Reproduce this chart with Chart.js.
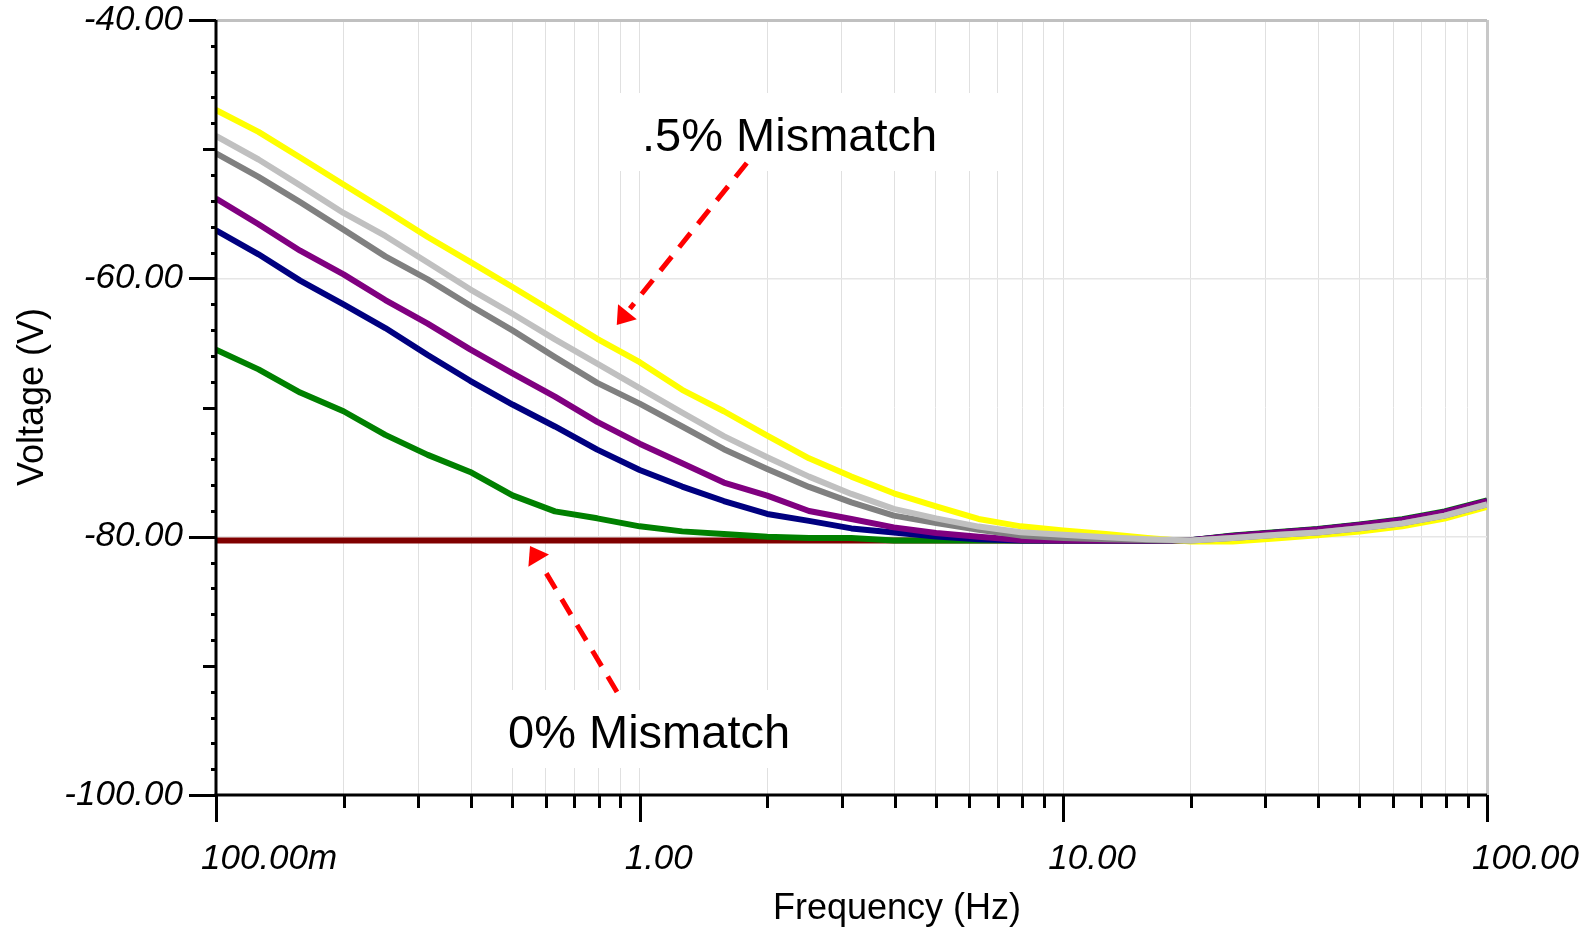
<!DOCTYPE html>
<html>
<head>
<meta charset="utf-8">
<title>Voltage vs Frequency</title>
<script src="https://cdn.jsdelivr.net/npm/chart.js@4.4.1/dist/chart.umd.min.js"></script>
<style>
  html, body { margin: 0; padding: 0; background: #fff; }
  #wrap { width: 1587px; height: 929px; }
</style>
</head>
<body>
<div id="wrap"><canvas id="voltageChart" width="1587" height="929"></canvas></div>
<script>
// sweep frequencies (Hz), 10 points per decade
const freqHz = [0.1, 0.126, 0.158, 0.2, 0.251, 0.316, 0.398, 0.501, 0.631, 0.794,
                1, 1.26, 1.58, 2, 2.51, 3.16, 3.98, 5.01, 6.31, 7.94,
                10, 12.6, 15.8, 20, 25.1, 31.6, 39.8, 50.1, 63.1, 79.4, 100];

// output voltage (dB V) for each mismatch run
const yellowV = [-46.97, -48.66, -50.65, -52.74, -54.73, -56.80, -58.73, -60.67, -62.66, -64.68,
                 -66.49, -68.63, -70.29, -72.17, -73.93, -75.35, -76.64, -77.65, -78.63, -79.20,
                 -79.53, -79.80, -80.10, -80.38, -80.38, -80.15, -79.90, -79.60, -79.20, -78.60, -77.70];
const lightGrayV = [-48.98, -50.80, -52.80, -54.94, -56.72, -58.78, -60.85, -62.74, -64.73, -66.61,
                    -68.50, -70.39, -72.22, -73.85, -75.35, -76.69, -77.85, -78.58, -79.22, -79.66,
                    -79.85, -80.05, -80.20, -80.30, -80.10, -79.87, -79.67, -79.35, -78.97, -78.37, -77.50];
const grayV = [-50.33, -52.15, -54.10, -56.23, -58.30, -60.08, -62.10, -64.03, -66.10, -68.09,
               -69.70, -71.47, -73.23, -74.76, -76.15, -77.34, -78.37, -78.94, -79.46, -79.92,
               -80.10, -80.20, -80.25, -80.30, -80.10, -79.87, -79.67, -79.35, -78.97, -78.37, -77.50];
const purpleV = [-53.82, -55.81, -57.86, -59.69, -61.68, -63.51, -65.50, -67.36, -69.16, -71.11,
                 -72.80, -74.32, -75.81, -76.82, -78.01, -78.63, -79.28, -79.71, -80.00, -80.26,
                 -80.30, -80.30, -80.30, -80.28, -79.95, -79.70, -79.45, -79.10, -78.70, -78.10, -77.25];
const navyV = [-56.28, -58.14, -60.18, -62.02, -63.85, -65.94, -67.93, -69.77, -71.47, -73.26,
               -74.84, -76.12, -77.24, -78.24, -78.78, -79.36, -79.67, -79.98, -80.20, -80.30,
               -80.30, -80.30, -80.30, -80.28, -79.95, -79.70, -79.45, -79.10, -78.70, -78.10, -77.25];
const greenV = [-65.53, -67.05, -68.84, -70.29, -72.12, -73.67, -74.99, -76.80, -78.04, -78.58,
                -79.20, -79.59, -79.80, -80.00, -80.10, -80.10, -80.30, -80.30, -80.30, -80.30,
                -80.30, -80.30, -80.30, -80.28, -79.90, -79.65, -79.40, -79.05, -78.65, -78.05, -77.20];
const darkRedV = [-80.30, -80.30, -80.30, -80.30, -80.30, -80.30, -80.30, -80.30, -80.30, -80.30,
                  -80.30, -80.30, -80.30, -80.30, -80.30, -80.30, -80.30, -80.30, -80.30, -80.30,
                  -80.30, -80.30, -80.30, -80.30, -80.10, -79.87, -79.67, -79.35, -78.97, -78.37, -77.50];

// axis ticks
const xMajorTicks = [0.1, 1, 10, 100];
const xTickLabels = ['100.00m', '1.00', '10.00', '100.00'];
const yMajorTicks = [-100, -80, -60, -40];
const yTickLabels = ['-100.00', '-80.00', '-60.00', '-40.00'];

// every 1..9 step in each decade, used for grid lines and tick marks
const xGridValues = [];
[0.1, 1, 10].forEach(dec => {
    for (let m = 1; m < 10; m++) xGridValues.push(m === 1 ? dec : m * dec);
});
xGridValues.push(100);
const yGridValues = [];
for (let v = -100; v <= -40; v += 2) yGridValues.push(v);

// callouts: text anchored at baseline-left (Hz, V), box offset in px, arrow from/to (Hz, V)
const notes = [
    { text: '.5% Mismatch', at: [1.013, -50.14], box: [-37, -58, 405, 78], from: [1.79, -51.07], to: [0.883, -63.61] },
    { text: '0% Mismatch', at: [0.489, -96.36], box: [-26, -58, 336, 78], from: [0.884, -92.02], to: [0.551, -80.72] }
];

const series = [
    { values: lightGrayV, color: '#c0c0c0' },
    { values: grayV, color: '#808080' },
    { values: yellowV, color: '#ffff00' },
    { values: purpleV, color: '#800080' },
    { values: navyV, color: '#000080' },
    { values: greenV, color: '#008000' },
    { values: darkRedV, color: '#800000' }
];

const FONT = '"Liberation Sans", Arial, sans-serif';

function drawArrow(ctx, x1, y1, x2, y2) {
    const ang = Math.atan2(y2 - y1, x2 - x1);
    const headLen = 17, headHalf = 12;
    const bx = x2 - headLen * Math.cos(ang);
    const by = y2 - headLen * Math.sin(ang);
    ctx.strokeStyle = '#ff0000';
    ctx.fillStyle = '#ff0000';
    ctx.lineWidth = 5;
    ctx.setLineDash([18, 12]);
    ctx.beginPath();
    ctx.moveTo(x1, y1);
    ctx.lineTo(x2 - (headLen + 4) * Math.cos(ang), y2 - (headLen + 4) * Math.sin(ang));
    ctx.stroke();
    ctx.setLineDash([]);
    ctx.beginPath();
    ctx.moveTo(x2, y2);
    ctx.lineTo(bx + headHalf * Math.sin(ang), by - headHalf * Math.cos(ang));
    ctx.lineTo(bx - headHalf * Math.sin(ang), by + headHalf * Math.cos(ang));
    ctx.closePath();
    ctx.fill();
}

// axis lines, tick marks, callouts and axis titles
const overlay = {
    id: 'overlay',
    afterDatasetsDraw(chart) {
        const { ctx, chartArea: a, scales: { x, y } } = chart;
        ctx.save();
        ctx.strokeStyle = '#000';
        ctx.lineWidth = 3;
        ctx.lineCap = 'butt';

        const seg = (x1, y1, x2, y2) => {
            ctx.beginPath(); ctx.moveTo(x1, y1); ctx.lineTo(x2, y2); ctx.stroke();
        };

        // x tick marks
        xGridValues.forEach(v => {
            const px = Math.round(x.getPixelForValue(v)) + 0.5;
            const major = xMajorTicks.includes(v);
            seg(px, a.bottom, px, a.bottom + (major ? 27 : 13));
        });
        // y tick marks
        yGridValues.forEach(v => {
            const py = Math.round(y.getPixelForValue(v)) + 0.5;
            let len = 5;
            if (v % 20 === 0) len = 27;
            else if (v % 10 === 0) len = 13;
            seg(a.left - len, py, a.left, py);
        });
        // axis lines
        seg(a.left, a.top, a.left, a.bottom);
        seg(a.left - 1.5, a.bottom, a.right, a.bottom);

        // callouts
        notes.forEach(n => {
            const tx = x.getPixelForValue(n.at[0]);
            const ty = y.getPixelForValue(n.at[1]);
            ctx.fillStyle = '#fff';
            ctx.fillRect(tx + n.box[0], ty + n.box[1], n.box[2], n.box[3]);
            ctx.fillStyle = '#000';
            ctx.font = '47px ' + FONT;
            ctx.textAlign = 'left';
            ctx.textBaseline = 'alphabetic';
            ctx.fillText(n.text, tx, ty);
            drawArrow(ctx,
                x.getPixelForValue(n.from[0]), y.getPixelForValue(n.from[1]),
                x.getPixelForValue(n.to[0]), y.getPixelForValue(n.to[1]));
        });

        // axis titles
        ctx.fillStyle = '#000';
        ctx.font = '36px ' + FONT;
        ctx.textAlign = 'center';
        ctx.textBaseline = 'alphabetic';
        ctx.fillText('Frequency (Hz)', 897, 919);
        ctx.translate(43, 397);
        ctx.rotate(-Math.PI / 2);
        ctx.fillText('Voltage (V)', 0, 0);
        ctx.restore();
    }
};

const tickFont = { family: FONT, size: 35, style: 'italic' };

const ctx = document.getElementById('voltageChart').getContext('2d');
new Chart(ctx, {
    type: 'line',
    data: {
        datasets: series.map(s => ({
            data: freqHz.map((f, i) => ({ x: f, y: s.values[i] })),
            borderColor: s.color,
            backgroundColor: s.color,
            borderWidth: 6,
            borderJoinStyle: 'round',
            pointRadius: 0,
            tension: 0,
            fill: false
        }))
    },
    options: {
        responsive: false,
        animation: false,
        devicePixelRatio: 1,
        layout: { padding: { top: 20, right: 100, left: 0, bottom: 0 } },
        plugins: {
            legend: { display: false },
            tooltip: { enabled: false }
        },
        scales: {
            x: {
                type: 'logarithmic',
                min: 0.1,
                max: 100,
                afterBuildTicks: s => { s.ticks = xGridValues.map(v => ({ value: v })); },
                afterFit: s => { s.height = 134; s.paddingLeft = 0; s.paddingRight = 0; },
                border: { display: false },
                grid: {
                    drawTicks: false,
                    color: c => (c.tick && c.tick.value === 100) ? '#c8c8c8' : '#e0e0e0',
                    lineWidth: c => {
                        if (!c.tick) return 0;
                        if (c.tick.value === 0.1) return 0;
                        return c.tick.value === 100 ? 3 : 1;
                    }
                },
                ticks: {
                    autoSkip: false,
                    maxRotation: 0,
                    minRotation: 0,
                    align: 'start',
                    labelOffset: -15,
                    padding: 43,
                    color: '#000',
                    font: tickFont,
                    callback: v => {
                        const i = xMajorTicks.indexOf(v);
                        return i >= 0 ? xTickLabels[i] : '';
                    }
                }
            },
            y: {
                min: -100,
                max: -40,
                afterBuildTicks: s => { s.ticks = yGridValues.map(v => ({ value: v })); },
                afterFit: s => { s.width = 216; s.paddingTop = 0; s.paddingBottom = 0; },
                border: { display: false },
                grid: {
                    drawTicks: false,
                    color: c => (c.tick && c.tick.value === -40) ? '#c0c0c0' : '#e6e6e6',
                    lineWidth: c => {
                        if (!c.tick) return 0;
                        const v = c.tick.value;
                        if (v === -40) return 3;
                        if (v === -60 || v === -80) return 1.5;
                        return 0;
                    }
                },
                ticks: {
                    autoSkip: false,
                    padding: 33,
                    color: '#000',
                    font: tickFont,
                    callback: v => {
                        const i = yMajorTicks.indexOf(v);
                        return i >= 0 ? yTickLabels[i] : '';
                    }
                }
            }
        }
    },
    plugins: [overlay]
});
</script>
</body>
</html>
